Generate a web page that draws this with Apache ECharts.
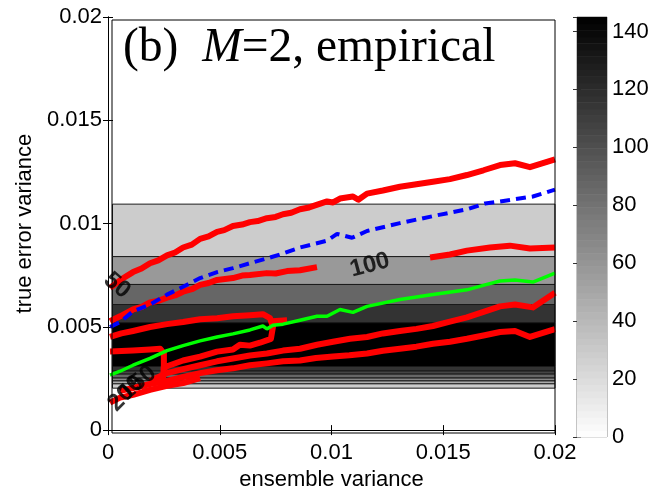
<!DOCTYPE html>
<html>
<head>
<meta charset="utf-8">
<script src="https://cdn.jsdelivr.net/npm/echarts@6/dist/echarts.min.js"></script>
<style>
html, body { margin: 0; padding: 0; background: #ffffff; }
#chart { width: 654px; height: 496px; }
</style>
</head>
<body>
<div id="chart"></div>
<script>
// Axis ticks
const xTicks = [0, 0.005, 0.01, 0.015, 0.02];
const yTicks = [0, 0.005, 0.01, 0.015, 0.02];
const cbTicks = [0, 20, 40, 60, 80, 100, 120, 140];
const cbMax = 145;

// Filled contour field: horizontal bands (lower edge, upper edge, level)
const fieldX = [0.0002, 0.02];
const bandLow   = [0.00840, 0.00705, 0.00608, 0.00520, 0.00308, 0.00286, 0.00271, 0.00252, 0.00238, 0.00224, 0.00203];
const bandHigh  = [0.01094, 0.00840, 0.00705, 0.00608, 0.00520, 0.00308, 0.00286, 0.00271, 0.00252, 0.00238, 0.00224];
const bandLevel = [29, 58, 87, 116, 145, 116, 106, 87, 68, 48, 29];

// Red contour lines of the empirical count
const red50 = [[0.00009,0.00689],[0.00060,0.00730],[0.00112,0.00765],[0.00150,0.00782],[0.00188,0.00808],[0.00225,0.00822],[0.00264,0.00846],[0.00300,0.00860],[0.00336,0.00884],[0.00375,0.00898],[0.00412,0.00926],[0.00450,0.00938],[0.00488,0.00960],[0.00520,0.00968],[0.00559,0.00988],[0.00600,0.00995],[0.00635,0.01007],[0.00670,0.01012],[0.00711,0.01026],[0.00750,0.01032],[0.00783,0.01045],[0.00820,0.01052],[0.00859,0.01069],[0.00900,0.01078],[0.00940,0.01093],[0.00980,0.01107],[0.01007,0.01102],[0.01038,0.01121],[0.01096,0.01131],[0.01120,0.01115],[0.01159,0.01145],[0.01230,0.01160],[0.01306,0.01178],[0.01380,0.01190],[0.01454,0.01202],[0.01530,0.01215],[0.01606,0.01235],[0.01680,0.01258],[0.01754,0.01283],[0.01821,0.01292],[0.01888,0.01273],[0.02000,0.01311]];
const red100 = [[0.00009,0.00527],[0.00054,0.00551],[0.00112,0.00584],[0.00150,0.00596],[0.00188,0.00618],[0.00225,0.00626],[0.00264,0.00641],[0.00300,0.00652],[0.00336,0.00670],[0.00375,0.00682],[0.00412,0.00703],[0.00450,0.00712],[0.00488,0.00727],[0.00559,0.00736],[0.00600,0.00748],[0.00635,0.00751],[0.00711,0.00760],[0.00750,0.00758],[0.00801,0.00770],[0.00859,0.00774],[0.00935,0.00789],null,[0.01441,0.00836],[0.01530,0.00850],[0.01606,0.00869],[0.01709,0.00884],[0.01798,0.00893],[0.01888,0.00879],[0.02000,0.00884]];
const red150 = [[0.00009,0.00451],[0.00060,0.00468],[0.00112,0.00480],[0.00188,0.00499],[0.00264,0.00513],[0.00336,0.00523],[0.00412,0.00537],[0.00488,0.00542],[0.00559,0.00551],[0.00635,0.00556],[0.00693,0.00561],[0.00725,0.00542],[0.00738,0.00499],[0.00729,0.00442],[0.00680,0.00423],[0.00635,0.00409],[0.00590,0.00413],[0.00559,0.00390],[0.00488,0.00380],[0.00412,0.00356],[0.00336,0.00337],[0.00264,0.00309],[0.00246,0.00295]];
const red150b = [[0.00734,0.00527],[0.00801,0.00532]];
const red200 = [[0.00009,0.00380],[0.00112,0.00385],[0.00188,0.00390],[0.00233,0.00394],[0.00250,0.00371],[0.00250,0.00314],[0.00246,0.00247]];
const redLowA = [[0.00188,0.00238],[0.00264,0.00276],[0.00336,0.00295],[0.00412,0.00314],[0.00488,0.00333],[0.00559,0.00347],[0.00635,0.00361],[0.00711,0.00371],[0.00783,0.00385],[0.00859,0.00394],[0.00935,0.00413],[0.01007,0.00428],[0.01083,0.00442],[0.01159,0.00451],[0.01230,0.00468],[0.01306,0.00480],[0.01380,0.00490],[0.01454,0.00504],[0.01530,0.00525],[0.01606,0.00546],[0.01687,0.00575],[0.01754,0.00599],[0.01821,0.00608],[0.01901,0.00594],[0.02000,0.00665]];
const redLowB = [[0.00054,0.00190],[0.00112,0.00204],[0.00188,0.00223],[0.00264,0.00238],[0.00336,0.00257],[0.00412,0.00276],[0.00488,0.00290],[0.00559,0.00299],[0.00635,0.00314],[0.00711,0.00323],[0.00783,0.00333],[0.00859,0.00337],[0.00930,0.00349],[0.01007,0.00356],[0.01080,0.00362],[0.01159,0.00371],[0.01230,0.00384],[0.01306,0.00394],[0.01380,0.00404],[0.01454,0.00418],[0.01530,0.00428],[0.01606,0.00442],[0.01680,0.00458],[0.01754,0.00475],[0.01821,0.00480],[0.01888,0.00451],[0.02000,0.00489]];
const redLowC = [[0.00009,0.00133],[0.00054,0.00157],[0.00112,0.00171],[0.00188,0.00195],[0.00264,0.00214],[0.00336,0.00228],[0.00412,0.00252]];

// Blue dashed and green reference curves
const blueCurve = [[0.00009,0.00499],[0.00054,0.00523],[0.00112,0.00575],[0.00188,0.00608],[0.00264,0.00656],[0.00336,0.00694],[0.00412,0.00736],[0.00488,0.00765],[0.00559,0.00784],[0.00635,0.00808],[0.00711,0.00831],[0.00783,0.00855],[0.00859,0.00884],[0.00980,0.00917],[0.01025,0.00950],[0.01092,0.00931],[0.01159,0.00964],[0.01306,0.01002],[0.01454,0.01036],[0.01606,0.01069],[0.01687,0.01097],[0.01754,0.01107],[0.01901,0.01131],[0.02000,0.01164]];
const greenCurve = [[0.00009,0.00266],[0.00054,0.00285],[0.00112,0.00314],[0.00188,0.00347],[0.00264,0.00385],[0.00336,0.00409],[0.00412,0.00432],[0.00488,0.00451],[0.00559,0.00466],[0.00635,0.00485],[0.00693,0.00504],[0.00711,0.00490],[0.00738,0.00508],[0.00783,0.00513],[0.00859,0.00532],[0.00935,0.00551],[0.00980,0.00551],[0.01038,0.00584],[0.01096,0.00570],[0.01159,0.00599],[0.01306,0.00632],[0.01454,0.00656],[0.01606,0.00679],[0.01687,0.00703],[0.01754,0.00722],[0.01821,0.00727],[0.01901,0.00717],[0.02000,0.00760]];

// Contour labels
const contourLabels = [
  { name: '50',  value: [0.00040, 0.00700], rot: -40 },
  { name: '100', value: [0.01172, 0.00798], rot: 15 },
  { name: '150', value: [0.00134, 0.00228], rot: 40 },
  { name: '200', value: [0.00080, 0.00178], rot: 45 }
];

// Colour scale steps for the colour bar
const cbSteps = [];
for (let i = 0; i < 64; i++) cbSteps.push([0, 1, i * cbMax / 64, (i + 1) * cbMax / 64]);

function grayOf(v) {
  const g = Math.round(255 * (1 - Math.min(Math.max(v / cbMax, 0), 1)));
  return 'rgb(' + g + ',' + g + ',' + g + ')';
}

const FONT = 'Liberation Sans, Arial, sans-serif';
const chart = echarts.init(document.getElementById('chart'), null, { renderer: 'canvas' });

function redLine(data) {
  return {
    type: 'line', xAxisIndex: 0, yAxisIndex: 0, data: data, symbol: 'none',
    connectNulls: false, clip: true, z: 3,
    lineStyle: { color: '#ff0000', width: 6, join: 'round', cap: 'butt' }
  };
}

const option = {
  animation: false,
  backgroundColor: '#ffffff',
  grid: [
    { left: 108, top: 17, width: 447, height: 420, show: true, backgroundColor: '#ffffff', borderWidth: 0 },
    { left: 577, top: 17, width: 30, height: 420, show: true, backgroundColor: 'transparent', borderColor: '#888888', borderWidth: 1 }
  ],
  xAxis: [
    {
      gridIndex: 0, type: 'value', min: 0, max: 0.02, interval: 0.005,
      name: 'ensemble variance', nameLocation: 'middle', nameGap: 37,
      nameTextStyle: { fontFamily: FONT, fontSize: 22, color: '#000' },
      axisLine: { show: true, lineStyle: { color: '#000', width: 1 } },
      axisTick: { show: true, inside: true, length: 5, lineStyle: { color: '#000' } },
      axisLabel: { fontFamily: FONT, fontSize: 22, color: '#000', margin: 12,
        formatter: function (v) { return xTicks.indexOf(v) >= 0 ? String(v) : ''; } },
      splitLine: { show: false }
    },
    {
      gridIndex: 0, type: 'value', position: 'top', min: 0, max: 0.02, interval: 0.005,
      axisLine: { show: true, lineStyle: { color: '#000', width: 1 } },
      axisTick: { show: true, inside: true, length: 5, lineStyle: { color: '#000' } },
      axisLabel: { show: false }, splitLine: { show: false }
    },
    { gridIndex: 1, type: 'value', min: 0, max: 1, show: false }
  ],
  yAxis: [
    {
      gridIndex: 0, type: 'value', min: 0, max: 0.02, interval: 0.005,
      name: 'true error variance', nameLocation: 'middle', nameGap: 70,
      nameTextStyle: { fontFamily: FONT, fontSize: 22, color: '#000' },
      axisLine: { show: true, lineStyle: { color: '#000', width: 1 } },
      axisTick: { show: true, inside: true, length: 5, lineStyle: { color: '#000' } },
      axisLabel: { fontFamily: FONT, fontSize: 22, color: '#000', margin: 6,
        formatter: function (v) { return yTicks.indexOf(v) >= 0 ? String(v) : ''; } },
      splitLine: { show: false }
    },
    {
      gridIndex: 0, type: 'value', position: 'right', min: 0, max: 0.02, interval: 0.005,
      axisLine: { show: true, lineStyle: { color: '#000', width: 1 } },
      axisTick: { show: true, inside: true, length: 5, lineStyle: { color: '#000' } },
      axisLabel: { show: false }, splitLine: { show: false }
    },
    {
      gridIndex: 1, type: 'value', position: 'right', min: 0, max: cbMax, interval: 20,
      axisLine: { show: false },
      axisTick: { show: true, inside: true, length: 4, lineStyle: { color: '#333' } },
      axisLabel: { fontFamily: FONT, fontSize: 22, color: '#000', margin: 5,
        formatter: function (v) { return cbTicks.indexOf(v) >= 0 ? String(v) : ''; } },
      splitLine: { show: false }
    },
    {
      gridIndex: 1, type: 'value', position: 'left', min: 0, max: cbMax, interval: 20,
      axisLine: { show: false },
      axisTick: { show: true, inside: true, length: 4, lineStyle: { color: '#333' } },
      axisLabel: { show: false }, splitLine: { show: false }
    }
  ],
  series: [
    {
      type: 'custom', xAxisIndex: 0, yAxisIndex: 0, z: 1,
      data: bandLow.map(function (lo, i) { return [fieldX[0], fieldX[1], lo, bandHigh[i], bandLevel[i]]; }),
      encode: { x: [0, 1], y: [2, 3] },
      renderItem: function (params, api) {
        const p0 = api.coord([api.value(0), api.value(3)]);
        const p1 = api.coord([api.value(1), api.value(2)]);
        return {
          type: 'rect',
          shape: { x: p0[0], y: p0[1], width: p1[0] - p0[0], height: p1[1] - p0[1] },
          style: { fill: grayOf(api.value(4)), stroke: '#1a1a1a', lineWidth: 1 }
        };
      }
    },
    redLine(red50), redLine(red100), redLine(red150), redLine(red150b),
    redLine(red200), redLine(redLowA), redLine(redLowB), redLine(redLowC),
    {
      type: 'line', xAxisIndex: 0, yAxisIndex: 0, data: blueCurve, symbol: 'none', z: 4,
      lineStyle: { color: '#0000ff', width: 4, type: [10, 6] }
    },
    {
      type: 'line', xAxisIndex: 0, yAxisIndex: 0, data: greenCurve, symbol: 'none', z: 5,
      lineStyle: { color: '#00ff00', width: 3.5 }
    },
    {
      type: 'scatter', xAxisIndex: 0, yAxisIndex: 0, symbolSize: 0, z: 6,
      data: contourLabels.map(function (d) {
        return { name: d.name, value: d.value, label: { rotate: d.rot } };
      }),
      label: { show: true, position: 'inside', formatter: '{b}', fontFamily: FONT,
        fontSize: 24, fontWeight: 'bold', color: '#000' }
    },
    {
      type: 'custom', xAxisIndex: 2, yAxisIndex: 2, z: 1,
      data: cbSteps, encode: { x: [0, 1], y: [2, 3] },
      renderItem: function (params, api) {
        const p0 = api.coord([api.value(0), api.value(3)]);
        const p1 = api.coord([api.value(1), api.value(2)]);
        const mid = (api.value(2) + api.value(3)) / 2;
        return {
          type: 'rect',
          shape: { x: p0[0], y: p0[1], width: p1[0] - p0[0], height: p1[1] - p0[1] + 0.5 },
          style: { fill: grayOf(mid) }
        };
      }
    }
  ],
  graphic: [
    {
      type: 'rect', z: 50, silent: true,
      shape: { x: 112, y: 20, width: 443, height: 413 },
      style: { fill: 'none', stroke: '#000', lineWidth: 1 }
    },
    {
      type: 'text', z: 60, left: 123, top: 25,
      style: {
        text: '{a|(b)  }{m|M}{a|=2, empirical}',
        rich: {
          a: { fontFamily: 'Liberation Serif, Times New Roman, serif', fontSize: 47.5, fill: '#000' },
          m: { fontFamily: 'Liberation Serif, Times New Roman, serif', fontSize: 47.5, fontStyle: 'italic', fill: '#000' }
        }
      }
    }
  ]
};

chart.setOption(option);
</script>
</body>
</html>
